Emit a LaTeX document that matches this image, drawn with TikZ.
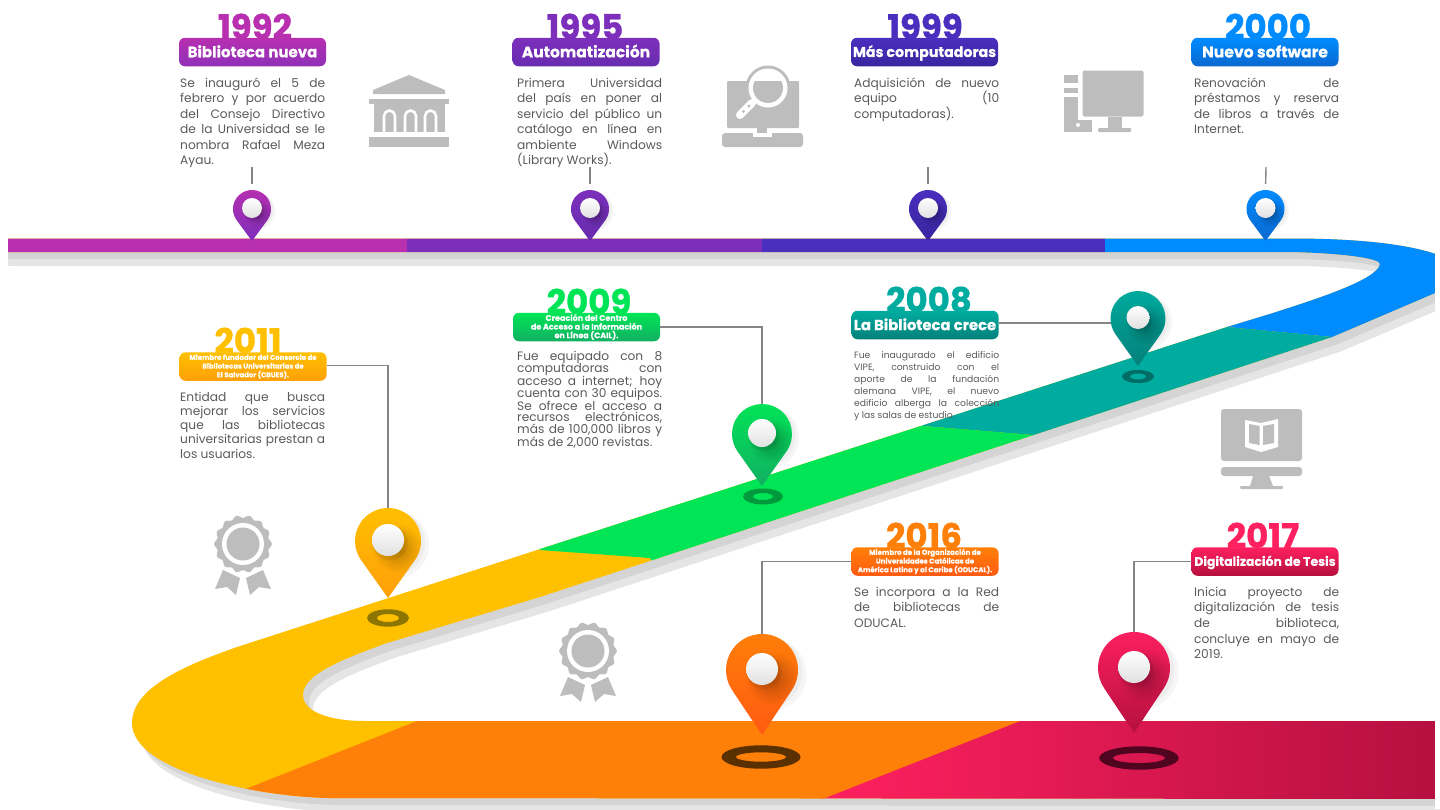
\documentclass[tikz,border=0pt]{standalone}
\usepackage{fontspec}
\usetikzlibrary{fadings}
\tikzfading[name=softspot,inner color=transparent!0,outer color=transparent!100]
\setmainfont{Poppins}
\newfontfamily\yearf[BoldFeatures={FakeBold=1.0}]{Poppins}
\newfontfamily\titlef[BoldFeatures={FakeBold=0.4}]{Poppins}
\hbadness=10000 \hfuzz=200pt
\tikzset{
  x=1pt,y=-1pt,
  titlebox/.style={rounded corners=6pt,minimum width=147pt,minimum height=28.5pt,inner sep=0pt,outer sep=0pt,text=white,align=center},
  titleone/.style={titlebox,text height=#1*0.7pt,text depth=0pt,font=\titlef\bfseries\fontsize{#1}{14}\selectfont},
  titlethree/.style={titlebox,font=\titlef\bfseries\fontsize{#1}{8.7}\selectfont},
  yeartxt/.style={anchor=base,inner sep=0pt,font=\yearf\bfseries\fontsize{34}{34}\selectfont},
  link/.style={draw=black!48,line width=1.4pt},
  icon/.style={fill=black!26,draw=none},
  cut/.style={fill=white,draw=none}
}
\definecolor{bodyc}{HTML}{5A5A5A}
\definecolor{cA}{HTML}{B82FB0}\definecolor{cAb}{HTML}{8E30B8}
\definecolor{cB}{HTML}{7D2FBB}\definecolor{cBb}{HTML}{672CB0}
\definecolor{cC}{HTML}{4A2FBF}\definecolor{cCb}{HTML}{38259F}
\definecolor{cD}{HTML}{008CFF}\definecolor{cDb}{HTML}{0A68D0}
\definecolor{cE}{HTML}{00AC9F}\definecolor{cEb}{HTML}{05807A}
\definecolor{cF}{HTML}{00E556}\definecolor{cFb}{HTML}{12B062}
\definecolor{cG}{HTML}{FFC000}\definecolor{cGb}{HTML}{FF9F0A}
\definecolor{cH}{HTML}{FF8008}\definecolor{cHb}{HTML}{FF5A12}
\definecolor{cI}{HTML}{FF2060}\definecolor{cIb}{HTML}{B5103F}
\definecolor{rE}{HTML}{006E66}\definecolor{rF}{HTML}{009A3C}\definecolor{rG}{HTML}{8C7500}
\definecolor{rH}{HTML}{5A3000}\definecolor{rI}{HTML}{4F0520}
\def\roadpath{(8,238.5) -- (1290,238.5) .. controls (1370,238.5) and (1425,246) .. (1455,262) .. controls (1480,277) and (1460,284) .. (1435,293) .. controls (1400,308) and (1365,323) .. (1332,337) -- (540,597) -- (387,643) .. controls (340,660) and (303,675) .. (303,695) .. controls (303,712) and (330,721) .. (365,721) -- (1460,721) -- (1460,799) -- (330,798) .. controls (260,797) and (132,772) .. (132,723) .. controls (132,685) and (195,662) .. (237,647) -- (1227,327) -- (1273,313) .. controls (1310,301) and (1378,280) .. (1380,264) .. controls (1380,258) and (1340,253) .. (1290,252) -- (8,252) -- cycle}
\newcommand\jl[1]{\hbox to 145pt{#1}}
\newcommand\jend[1]{\hbox{#1}}
% name, x, baseline, size, leading, lines
\newcommand\bodytxt[6]{\node[anchor=base west,inner sep=0pt,text=bodyc] (t#1) at (#2,#3) {\fontsize{#4}{#5}\selectfont\vtop{\baselineskip=#5pt \lineskip=0pt #6}};}
% name, x, cy, R, tipy, dot r, c1, c2
\newcommand\mypin[8]{%
  \node[circle,minimum size=#4*2pt,inner sep=0pt,outer sep=0pt] (p#1) at (#2,#3) {};
  \pgfmathsetmacro\pk{(#5-#3)/#4}
  \pgfmathsetmacro\pa{-90+acos(1/\pk)}
  \pgfmathsetmacro\pb{180-\pa}
  \begin{scope}[shift={(#2,#3)},x=#4pt,y=#4pt]
    \fill[black,opacity=.035] (.22,-.12) circle (1.02);
    \fill[black,opacity=.035] (.12,-.06) circle (1.0);
    \shade[top color=#7,bottom color=#8] (0,-\pk) -- (\pa:1) arc[start angle=\pa,end angle=\pb,radius=1] -- cycle;
    \begin{scope}
      \clip (0,-\pk) -- (\pa:1) arc[start angle=\pa,end angle=\pb,radius=1] -- cycle;
      \fill[black,opacity=.28,path fading=softspot] (.28,-.22) circle (.75);
    \end{scope}
  \end{scope}
  \begin{scope}[shift={(#2,#3)}]
    \fill[black,opacity=.06] (#6*.12,#6*.16-1) circle (#6*1.12pt);
    \shade[top color=white,bottom color=black!12] (0,-1) circle (#6 pt);
  \end{scope}
}
\newcommand\groundring[7]{\fill[even odd rule,#7] (#1,#2) ellipse (#3pt and #4pt) (#1,#2) ellipse (#5pt and #6pt);}
\newcommand\award[2]{%
  \begin{scope}[shift={(#1,#2)}]
    \fill[icon] plot[smooth cycle,domain=0:356,samples=90] ({(27.5+1.4*cos(14*\x))*cos(\x)},{(27.5+1.4*cos(14*\x))*sin(\x)});
    \fill[cut] (0,0) circle (21pt);
    \fill[icon] (0,0) circle (16.5pt);
    \fill[icon] (-20,26) -- (-3,34) -- (-7,51) -- (-16,43) -- (-28,45) -- cycle;
    \fill[icon] (20,26) -- (3,34) -- (7,51) -- (16,43) -- (28,45) -- cycle;
  \end{scope}
}
\begin{document}
\begin{tikzpicture}
\useasboundingbox (0,0) rectangle (1440,809);
% road shadows
\begin{scope}[shift={(10,14)}]\fill[black!10] \roadpath;\end{scope}
\fill[black!10] (8,252) rectangle (40,265.5);
\begin{scope}[shift={(6,7)}]\fill[black!17] \roadpath;\end{scope}
\fill[black!17] (8,252) rectangle (40,258.5);
% road
\begin{scope}
\clip \roadpath;
\fill[cG] (0,230) rectangle (1470,810);
\fill[cA] (0,230) rectangle (407,260);
\fill[cB] (407,230) rectangle (762,260);
\fill[cC] (762,230) rectangle (1105,260);
\fill[cD] (1105,225) -- (1500,225) -- (1500,353) -- (1332,337) -- (1227,327) -- (1227,262) -- (1105,262) -- cycle;
\fill[cE] (900,300) -- (1240,300) -- (1227,327) -- (1332,337) -- (1340,360) -- (1033,435) -- (923,426) -- (900,400) -- cycle;
\fill[cF] (530,530) -- (910,410) -- (923,426) -- (1033,435) -- (1050,450) -- (660,575) -- (650,558) -- (540,550) -- cycle;
\fill[cH] (417,721) -- (1020,721) -- (820,800) -- (218,800) -- cycle;
\shade[left color=cI,right color=cIb] (820,721) rectangle (1440,800);
\fill[cH] (800,721) -- (1020,721) -- (820,800) -- (800,800) -- cycle;
\end{scope}
% rings on the road
\groundring{1138}{376.5}{16}{6.5}{8}{3}{rE}
\groundring{763}{496.5}{20}{8}{10}{3.5}{rF}
\groundring{388}{618}{21}{8.7}{11}{4}{rG}
\groundring{761}{757}{39.5}{11.7}{25}{4.7}{rH}
\groundring{1139}{758}{39.7}{11.7}{26}{5}{rI}
% icons: bank
\fill[icon] (373,90) -- (409,75) -- (445,90) -- (445,94) -- (373,94) -- cycle;
\fill[icon] (369,99) rectangle (449,104);
\fill[icon] (374,104) rectangle (445,132);
\fill[icon] (369,137) rectangle (449,147);
\foreach \ax in {384,405,425}{
  \draw[white,line width=2.6pt] (\ax,133) -- (\ax,116) arc[start angle=180,end angle=0,radius=5.5pt] -- ++(0,17);
}
% icons: laptop and magnifier
\fill[icon,rounded corners=1pt] (727,81) rectangle (799,128);
\fill[icon] (757,128) rectangle (767,133);
\fill[icon,rounded corners=3pt] (722,133) -- (722,147) -- (803,147) -- (803,133) -- cycle;
\fill[cut] (753,133) rectangle (772,136.5);
\fill[icon] (768,88) circle (22.5pt);
\fill[cut] (768,88) circle (19.5pt);
\begin{scope}
\clip (727,81) rectangle (799,128);
\fill[icon] (768,88) circle (15pt);
\end{scope}
\draw[white,line width=8pt,line cap=round] (752,103) -- (740,115);
\fill[icon] (749,106) circle (1.6pt);
\fill[icon] (743.5,111.5) circle (1.6pt);
% icons: computer
\fill[icon] (1064,75) rectangle (1078,83);
\fill[icon] (1064,88) rectangle (1078,93);
\fill[icon] (1064,97) rectangle (1078,132);
\fill[icon] (1064,120) rectangle (1092,132);
\fill[cut] (1078,125) circle (2pt);
\draw[white,line width=3pt,rounded corners=3pt,fill=black!26] (1081,69) rectangle (1145,118);
\fill[icon] (1108,117) rectangle (1122,129);
\fill[icon,rounded corners=1pt] (1098,128) rectangle (1131,132);
% icons: monitor with book
\fill[icon,rounded corners=3pt] (1221,461) -- (1221,409) -- (1302,409) -- (1302,461) -- cycle;
\fill[icon,rounded corners=3pt] (1221,467) -- (1221,476) -- (1302,476) -- (1302,467) -- cycle;
\fill[icon] (1253,476) -- (1269,476) -- (1273,486) -- (1250,486) -- cycle;
\fill[icon,rounded corners=1pt] (1240,486) rectangle (1283,489);
\fill[cut] (1245,420) -- (1261,423) -- (1278,419) -- (1278,447) -- (1261,452) -- (1245,447) -- cycle;
\fill[icon] (1249,424) -- (1259.5,426) -- (1259.5,445) -- (1249,443) -- cycle;
\fill[icon] (1263,426) -- (1274,424) -- (1274,443) -- (1263,445) -- cycle;
% icons: awards
\award{243}{544}
\award{588}{651}
% years
\node[yeartxt,text=cA] (y1992) at (255,39) {1992};
\node[yeartxt,text=cB] (y1995) at (585,39) {1995};
\node[yeartxt,text=cC] (y1999) at (925,39) {1999};
\node[yeartxt,text=cD] (y2000) at (1268,39) {2000};
\node[yeartxt,text=cG] (y2011) at (248,353) {2011};
\node[yeartxt,text=cF] (y2009) at (589,314) {2009};
\node[yeartxt,text=cE] (y2008) at (929,312) {2008};
\node[yeartxt,text=cH] (y2016) at (924,548) {2016};
\node[yeartxt,text=cI] (y2017) at (1263,548) {2017};
% title boxes
\node[titleone=15,top color=cA,bottom color=cAb] (b1992) at (252.5,52) {Biblioteca nueva};
\node[titleone=15.5,top color=cB,bottom color=cBb] (b1995) at (586,52) {Automatización};
\node[titleone=14.2,top color=cC,bottom color=cCb] (b1999) at (924.5,52) {Más computadoras};
\node[titleone=15.6,top color=cD,bottom color=cDb] (b2000) at (1265,52) {Nuevo software};
\node[titlethree=6.9,top color=cG,bottom color=cGb] (b2011) at (253,366.5) {Miembro fundador del Consorcio de\\Bibliotecas Universitarias de\\El Salvador (CBUES).};
\node[titlethree=8,top color=cF,bottom color=cFb] (b2009) at (586.5,327) {Creación del Centro\\de Acceso a la Información\\en Línea (CAIL).};
\node[titleone=14.8,top color=cE,bottom color=cEb] (b2008) at (925,325) {La Biblioteca crece};
\node[titlethree=7,top color=cH,bottom color=cHb] (b2016) at (925,561.5) {Miembro de la Organización de\\Universidades Católicas de\\América Latina y al Caribe (ODUCAL).};
\node[titleone=12.4,top color=cI,bottom color=cIb] (b2017) at (1265,561.5) {Digitalización de Tesis};
% body text
\bodytxt{1992}{180}{87}{12.2}{15.5}{\jl{Se inauguró el 5 de}\jl{febrero y por acuerdo}\jl{del Consejo Directivo}\jl{de la Universidad se le}\jl{nombra Rafael Meza}\jend{Ayau.}}
\bodytxt{1995}{517}{87}{12.2}{15.5}{\jl{Primera Universidad}\jl{del país en poner al}\jl{servicio del público un}\jl{catálogo en línea en}\jl{ambiente Windows}\jend{(Library Works).}}
\bodytxt{1999}{854}{87}{12.2}{15.5}{\jl{Adquisición de nuevo}\jl{equipo (10}\jend{computadoras).}}
\bodytxt{2000}{1194}{87}{12.2}{15.5}{\jl{Renovación de}\jl{préstamos y reserva}\jl{de libros a través de}\jend{Internet.}}
\bodytxt{2011}{180}{401}{12.2}{14.3}{\jl{Entidad que busca}\jl{mejorar los servicios}\jl{que las bibliotecas}\jl{universitarias prestan a}\jend{los usuarios.}}
\bodytxt{2009}{517}{360.5}{12.2}{11.9}{\jl{Fue equipado con 8}\jl{computadoras con}\jl{acceso a internet; hoy}\jl{cuenta con 30 equipos.}\jl{Se ofrece el acceso a}\jl{recursos electrónicos,}\jl{más de 100,000 libros y}\jend{más de 2,000 revistas.}}
\bodytxt{2008}{854}{358.5}{9.2}{12}{\jl{Fue inaugurado el edificio}\jl{VIPE, construido con el}\jl{aporte de la fundación}\jl{alemana VIPE, el nuevo}\jl{edificio alberga la colección}\jend{y las salas de estudio.}}
\bodytxt{2016}{854}{596}{12.2}{15.5}{\jl{Se incorpora a la Red}\jl{de bibliotecas de}\jend{ODUCAL.}}
\bodytxt{2017}{1194}{596}{12.2}{15.7}{\jl{Inicia proyecto de}\jl{digitalización de tesis}\jl{de biblioteca,}\jl{concluye en mayo de}\jend{2019.}}
% connectors under
\coordinate (c1992) at (252,167);
\coordinate (c1995) at (590,167);
\coordinate (c1999) at (928,167);
\coordinate (c2000) at (1266,167);
% pins
\mypin{1992}{252}{209}{19}{241}{10}{cA}{cB}
\mypin{1995}{590}{209}{19}{241}{10}{cB}{cBb}
\mypin{1999}{928}{209}{19}{241}{10}{cC}{cCb}
\mypin{2000}{1265.5}{209}{19}{241}{10}{cD}{cDb}
\mypin{2008}{1138}{318.5}{27.5}{366}{11.5}{cE}{cEb}
\mypin{2009}{762}{434}{30}{486}{14}{cF}{cFb}
\mypin{2011}{388}{541}{33}{598}{16}{cG}{cGb}
\mypin{2016}{762}{670}{36}{735}{16}{cH}{cHb}
\mypin{2017}{1134}{668}{36}{733}{16}{cI}{cIb}
% connectors
\foreach \n in {1992,1995,1999,2000}{\draw[link,shorten >=6pt] (c\n) -- (p\n.north);}
\draw[link] ([yshift=1pt]b2011.east) -| (p2011.north);
\draw[link] (b2009.east) -| (p2009.north);
\draw[link] ([yshift=2pt]b2008.east) -- ([yshift=2pt]b2008.east -| p2008.west);
\draw[link] (b2016.west) -| (p2016.north);
\draw[link] (b2017.west) -| (p2017.north);
% right margin of the page
\fill[white] (1435,0) rectangle (1440,809);
\end{tikzpicture}
\end{document}
